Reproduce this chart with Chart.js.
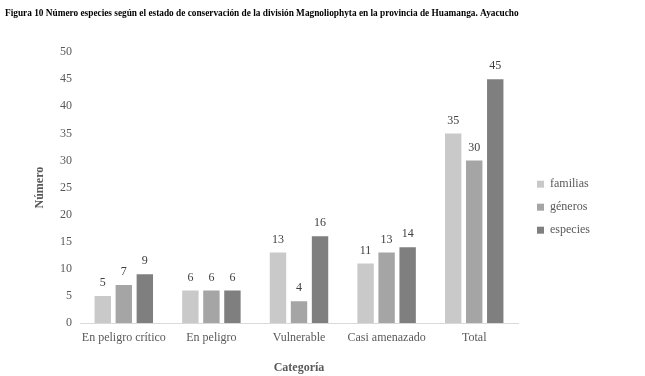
<!DOCTYPE html>
<html>
<head>
<meta charset="utf-8">
<script src="https://cdn.jsdelivr.net/npm/chart.js@4/dist/chart.umd.min.js"></script>
<style>
  html, body { margin: 0; padding: 0; background: #fff; }
  #wrap { width: 645px; height: 376px; }
</style>
</head>
<body>
<div id="wrap"><canvas id="myChart" width="645" height="376"></canvas></div>
<script>
// Datos
const categorias = ["En peligro crítico", "En peligro", "Vulnerable", "Casi amenazado", "Total"];
const familias = [5, 6, 13, 11, 35];
const generos = [7, 6, 4, 13, 30];
const especies = [9, 6, 16, 14, 45];
const ticksY = [0, 5, 10, 15, 20, 25, 30, 35, 40, 45, 50];

const fuente = "'Liberation Serif', 'Times New Roman', serif";
const grisTexto = "#595959";

// Plugin simple para escribir el valor sobre cada barra
const etiquetasBarras = {
    id: "etiquetasBarras",
    afterDatasetsDraw(chart) {
        const ctx = chart.ctx;
        ctx.save();
        ctx.font = "12px " + fuente;
        ctx.fillStyle = "#404040";
        ctx.textAlign = "center";
        ctx.textBaseline = "bottom";
        chart.data.datasets.forEach((ds, i) => {
            chart.getDatasetMeta(i).data.forEach((bar, j) => {
                ctx.fillText(ds.data[j], bar.x, bar.y - 7);
            });
        });
        ctx.restore();
    }
};

new Chart(document.getElementById("myChart").getContext("2d"), {
    type: "bar",
    data: {
        labels: categorias,
        datasets: [
            { label: "familias", data: familias, backgroundColor: "#c9c9c9" },
            { label: "géneros", data: generos, backgroundColor: "#a5a5a5" },
            { label: "especies", data: especies, backgroundColor: "#7f7f7f" }
        ]
    },
    options: {
        responsive: false,
        animation: false,
        layout: { padding: { left: 5, right: 45, top: 0, bottom: 0 } },
        datasets: {
            bar: { categoryPercentage: 0.72, barPercentage: 0.78 }
        },
        scales: {
            x: {
                grid: { display: false, drawTicks: false },
                border: { color: "#d9d9d9" },
                ticks: { color: grisTexto, font: { family: fuente, size: 12 }, padding: 8, maxRotation: 0 },
                title: { display: true, text: "Categoría", color: grisTexto, font: { family: fuente, size: 12, weight: "bold" }, padding: { top: 7, bottom: 1 } },
                afterFit(axis) { axis.height = 53; }
            },
            y: {
                min: 0,
                max: 50,
                afterBuildTicks(axis) {
                    axis.ticks = ticksY.map(v => ({ value: v }));
                },
                grid: { display: false, drawTicks: false },
                border: { display: false },
                ticks: { color: grisTexto, font: { family: fuente, size: 12 }, padding: 8 },
                title: { display: true, text: "Número", color: grisTexto, font: { family: fuente, size: 12, weight: "bold" }, padding: { top: 28, bottom: 12 } },
                afterFit(axis) { axis.width = 75; }
            },
            // eje vacío para separar la leyenda del área de la gráfica
            separador: {
                type: "linear",
                position: "right",
                display: true,
                grid: { display: false, drawTicks: false },
                border: { display: false },
                ticks: { display: false },
                afterFit(axis) { axis.width = 8; }
            }
        },
        plugins: {
            title: {
                display: true,
                text: "Figura 10 Número especies según el estado de conservación de la división Magnoliophyta en la provincia de Huamanga. Ayacucho",
                align: "start",
                color: "#000",
                font: { family: fuente, size: 9.3, weight: "bold" },
                padding: { top: 8, bottom: 33 }
            },
            legend: {
                position: "right",
                title: { display: true, text: " ", padding: 12 },
                labels: {
                    color: grisTexto,
                    font: { family: fuente, size: 12 },
                    boxWidth: 7,
                    boxHeight: 7,
                    padding: 11
                }
            },
            tooltip: { enabled: false }
        }
    },
    plugins: [etiquetasBarras]
});
</script>
</body>
</html>
